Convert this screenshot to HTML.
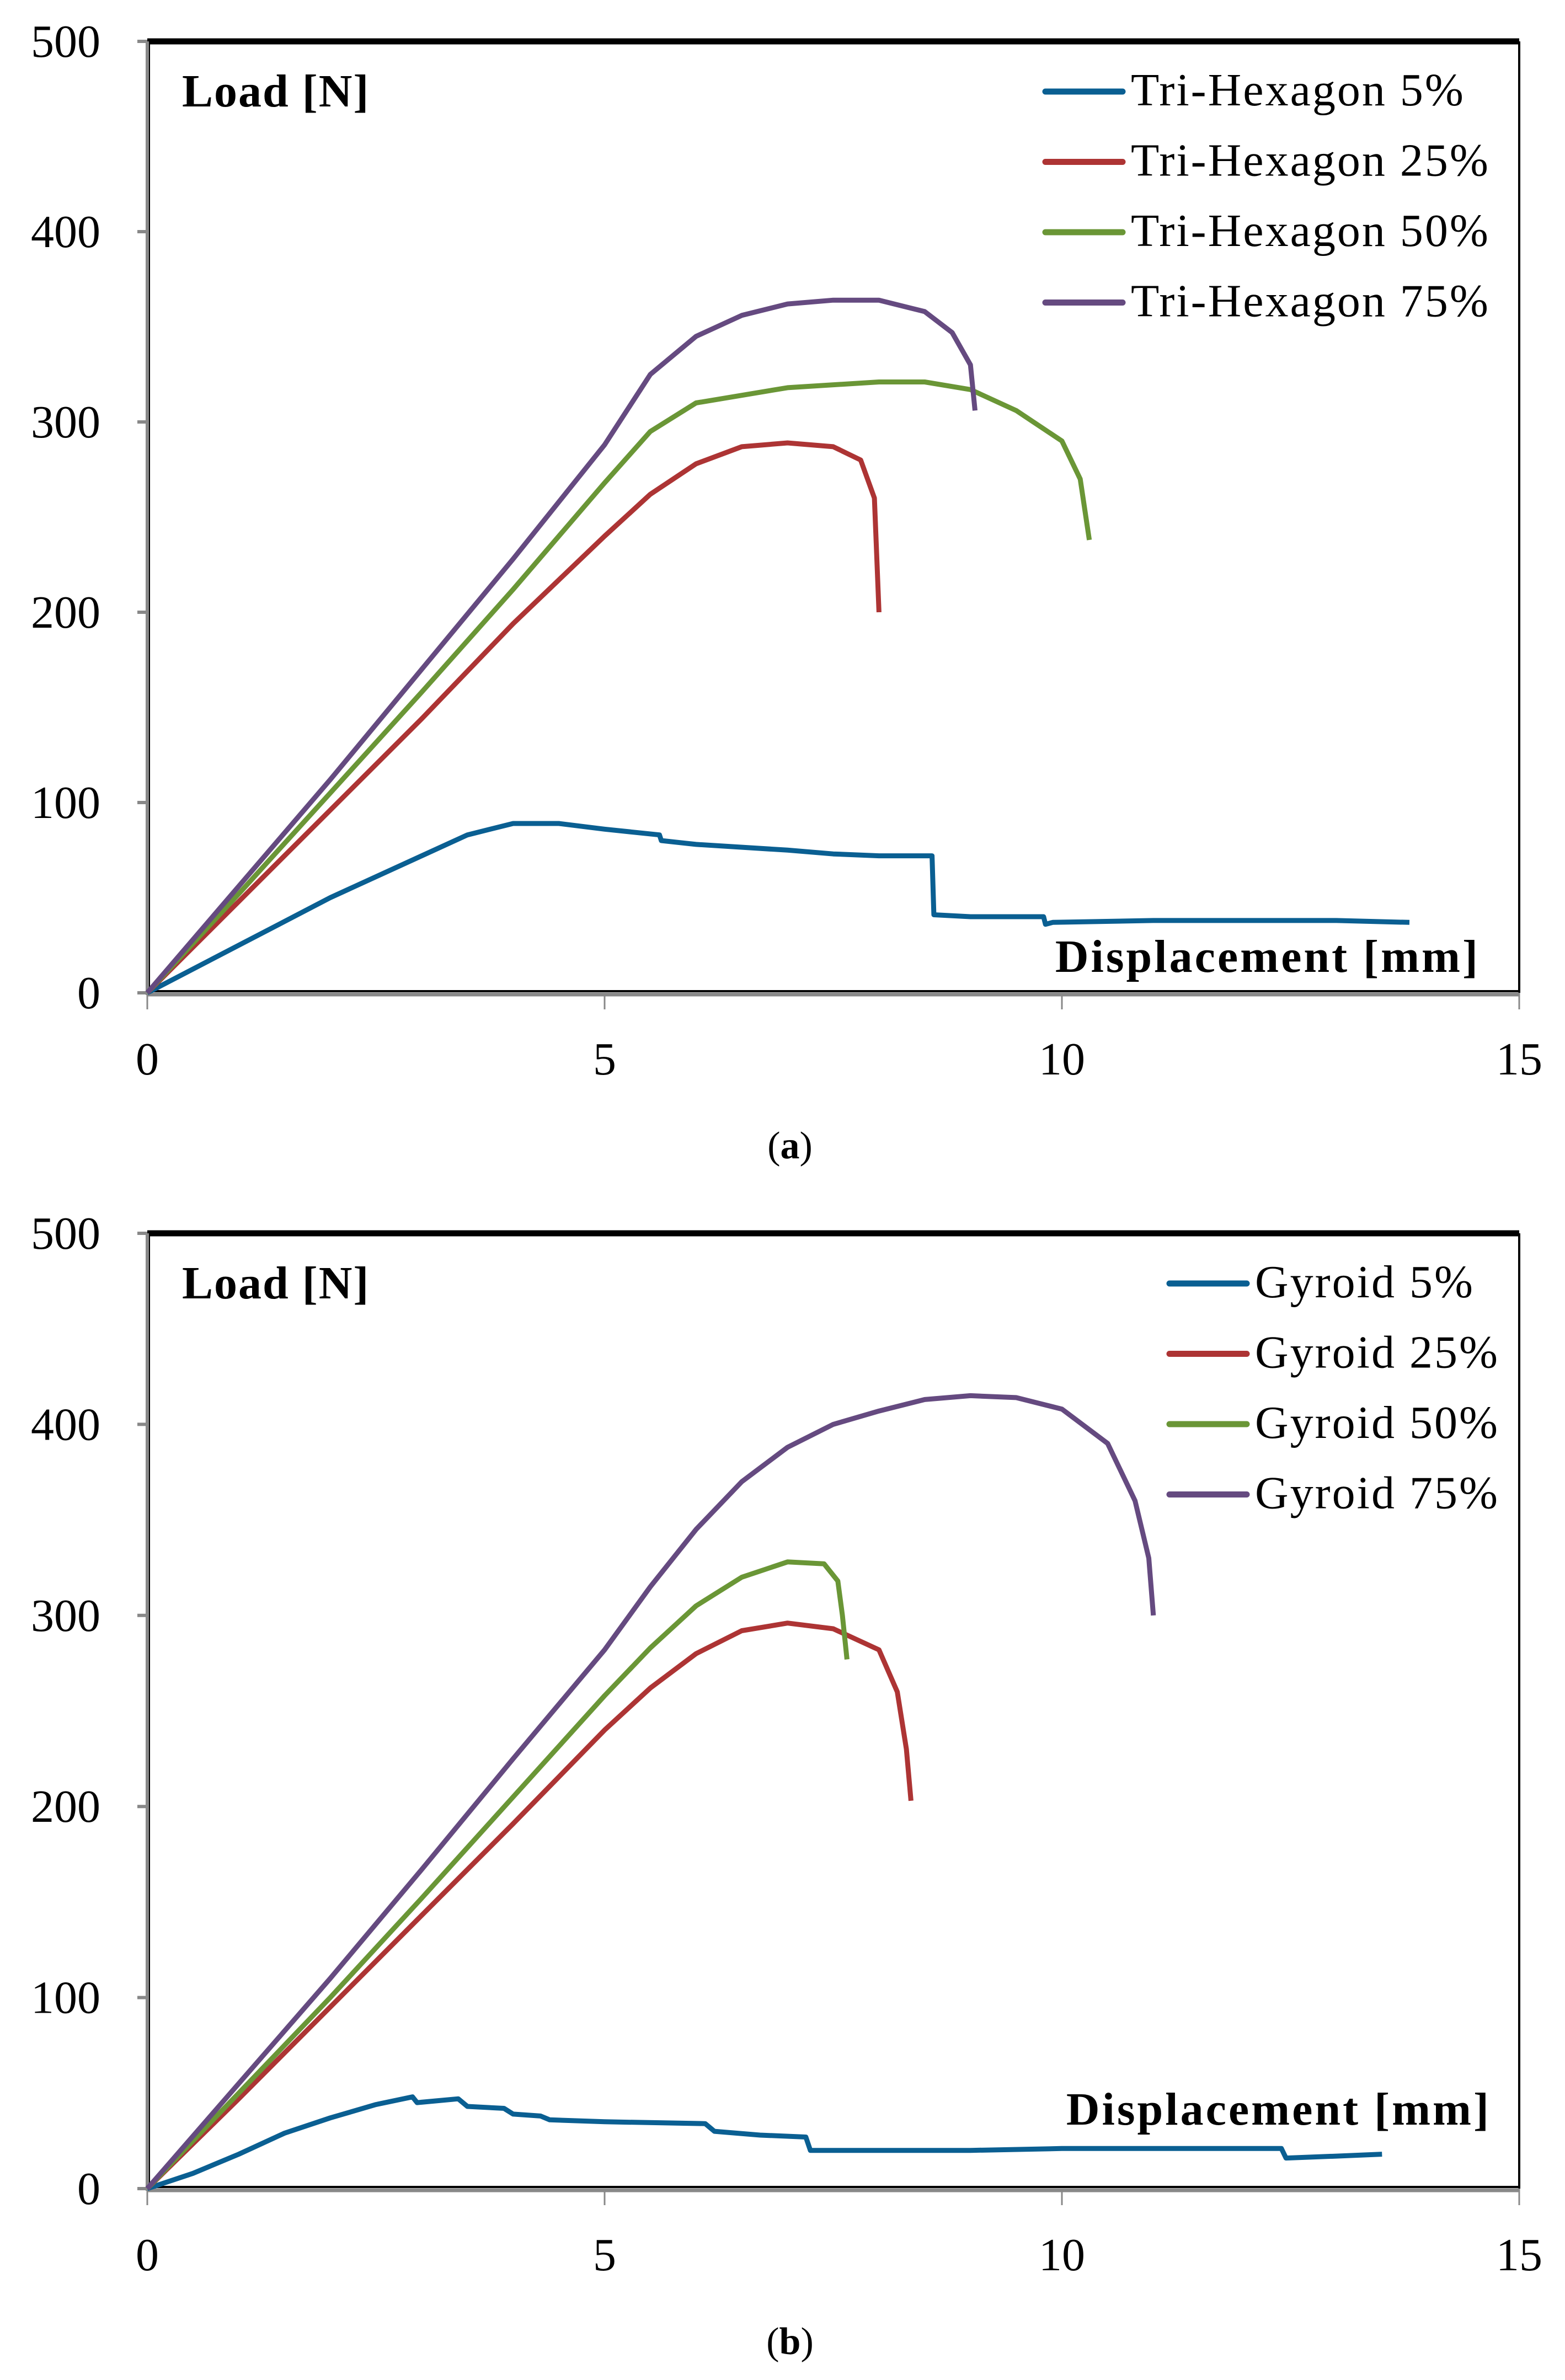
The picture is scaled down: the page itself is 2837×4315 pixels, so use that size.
<!DOCTYPE html>
<html><head><meta charset="utf-8"><style>
html,body{margin:0;padding:0;background:#fff}
svg{display:block}
text{font-family:"Liberation Serif",serif;fill:#000}
</style></head><body>
<svg id="root" width="2837" height="4315" viewBox="0 0 2837 4315" xmlns="http://www.w3.org/2000/svg"></svg>
<script>
const xTicks=[0,5,10,15];
const yTicks=[0,100,200,300,400,500];
const namesA=["Tri-Hexagon 5%","Tri-Hexagon 25%","Tri-Hexagon 50%","Tri-Hexagon 75%"];
const namesB=["Gyroid 5%","Gyroid 25%","Gyroid 50%","Gyroid 75%"];
const colors=["#0a5f92","#ad3434","#6a9636","#654a80"];
const a5x=[0,1,2,3,3.5,4,4.5,5,5.6,5.62,6,7,7.5,8,8.58,8.6,9,9.8,9.82,9.9,11,13,13.8];
const a5y=[0,25,50,72,83,89,89,86,83,80,78,75,73,72,72,41,40,40,36,37,38,38,37];
const a25x=[0,1,2,3,4,5,5.5,6,6.5,7,7.5,7.8,7.95,8];
const a25y=[0,48,96,144,194,240,262,278,287,289,287,280,260,200];
const a50x=[0,1,2,3,4,5,5.5,6,7,8,8.5,9,9.5,10,10.2,10.3];
const a50y=[0,52,105,158,212,268,295,310,318,321,321,317,306,290,270,238];
const a75x=[0,1,2,3,4,5,5.5,6,6.5,7,7.5,8,8.5,8.8,9,9.05];
const a75y=[0,56,112,170,228,288,325,345,356,362,364,364,358,347,330,306];
const b5x=[0,0.5,1,1.5,2,2.5,2.9,2.95,3.4,3.5,3.9,4,4.3,4.4,5,6.1,6.2,6.7,7.2,7.25,8,9,10,11,12.4,12.45,13,13.5];
const b5y=[0,8,18,29,37,44,48,45,47,43,42,39,38,36,35,34,30,28,27,20,20,20,21,21,21,16,17,18];
const b25x=[0,1,2,3,4,5,5.5,6,6.5,7,7.5,8,8.2,8.3,8.35];
const b25y=[0,47,95,143,191,240,262,280,292,296,293,282,260,230,203];
const b50x=[0,1,2,3,4,5,5.5,6,6.5,7,7.4,7.55,7.6,7.65];
const b50y=[0,50,100,152,205,258,283,305,320,328,327,318,300,277];
const b75x=[0,1,2,3,4,5,5.5,6,6.5,7,7.5,8,8.5,9,9.5,10,10.5,10.8,10.95,11];
const b75y=[0,55,110,167,225,282,315,345,370,388,400,407,413,415,414,408,390,360,330,300];

const NS="http://www.w3.org/2000/svg";
const root=document.getElementById('root');
function mk(tag,attrs,parent){const e=document.createElementNS(NS,tag);for(const k in attrs)e.setAttribute(k,attrs[k]);(parent||root).appendChild(e);return e;}

function panel(cfg){
  const g=mk('g',{});
  
  
  const X0=267,X1=2754,Y0=cfg.y0,Y1=cfg.y1;
  const sx=v=>X0+(v-0)/15*(X1-X0);
  const sy=v=>Y0-(v/500)*(Y0-Y1);
  const top=mk('line',{x1:X0,y1:Y1,x2:X1,y2:Y1,stroke:'#000','stroke-width':11},g);
  
  
  const right=mk('line',{x1:X1,y1:Y1,x2:X1,y2:Y0,stroke:'#000','stroke-width':4},g);
  
  
  const yax=mk('line',{x1:X0,y1:Y1,x2:X0,y2:Y0+4,stroke:'#888','stroke-width':6},g);
  
  
  const yaxb=mk('line',{x1:X0+4,y1:Y1,x2:X0+4,y2:Y0,stroke:'#000','stroke-width':2},g);
  
  
  const xax=mk('line',{x1:X0,y1:Y0+3,x2:X1,y2:Y0+3,stroke:'#888','stroke-width':7},g);
  
  
  const xaxb=mk('line',{x1:X0,y1:Y0-3,x2:X1,y2:Y0-3,stroke:'#000','stroke-width':4},g);
  
  
  yTicks.forEach(t=>{
    const tk=mk('line',{x1:X0-18,y1:sy(t),x2:X0,y2:sy(t),stroke:'#888','stroke-width':6},g);
    
    
    const tl=mk('text',{x:X0-85,y:sy(t)+28,'font-size':84,'text-anchor':'end'},g);
    tl.textContent=t;
    
    
  });
  xTicks.forEach(t=>{
    const tk=mk('line',{x1:sx(t),y1:Y0,x2:sx(t),y2:Y0+30,stroke:'#888','stroke-width':3},g);
    
    
    const tl=mk('text',{x:sx(t),y:Y0+148,'font-size':84,'text-anchor':'middle'},g);
    tl.textContent=t;
    
    
  });
  cfg.series.forEach((s,i)=>{
    const d=s[0].map((x,j)=>(j?'L':'M')+sx(x).toFixed(1)+','+sy(s[1][j]).toFixed(1)).join('');
    const p=mk('path',{d:d,fill:'none',stroke:colors[i],'stroke-width':9,'stroke-linejoin':'round'},g);
    
    
  });
  const yl=mk('text',{x:330,y:Y1+118,'font-size':84,'font-weight':'bold','letter-spacing':2},g);
  yl.textContent='Load [N]';
  
  
  const xl=mk('text',{x:cfg.xlx,y:cfg.xly,'font-size':84,'font-weight':'bold','text-anchor':'end','letter-spacing':4},g);
  xl.textContent='Displacement [mm]';
  
  
  cfg.names.forEach((n,i)=>{
    const ly=Y1+91+i*127.5;
    const ll=mk('line',{x1:cfg.lx,y1:ly,x2:cfg.lx+140,y2:ly,stroke:colors[i],'stroke-width':11,'stroke-linecap':'round'},g);
    
    
    const lt=mk('text',{x:cfg.lx+155,y:ly+25,'font-size':84,'letter-spacing':3},g);
    lt.textContent=n;
    
    
  });
  const cap=mk('text',{x:1432,y:cfg.capy,'font-size':70,'text-anchor':'middle'},g);
  cap.innerHTML='(<tspan font-weight="bold">'+cfg.cap+'</tspan>)';
  
  
}
panel({id:'chart-a',y0:1800,y1:75,names:namesA,lx:1895,xlx:2683,xly:1762,capy:2100,cap:'a',
  series:[[a5x,a5y],[a25x,a25y],[a50x,a50y],[a75x,a75y]]});
panel({id:'chart-b',y0:3968,y1:2236,names:namesB,lx:2120,xlx:2703,xly:3852,capy:4268,cap:'b',
  series:[[b5x,b5y],[b25x,b25y],[b50x,b50y],[b75x,b75y]]});
</script>
</body></html>
